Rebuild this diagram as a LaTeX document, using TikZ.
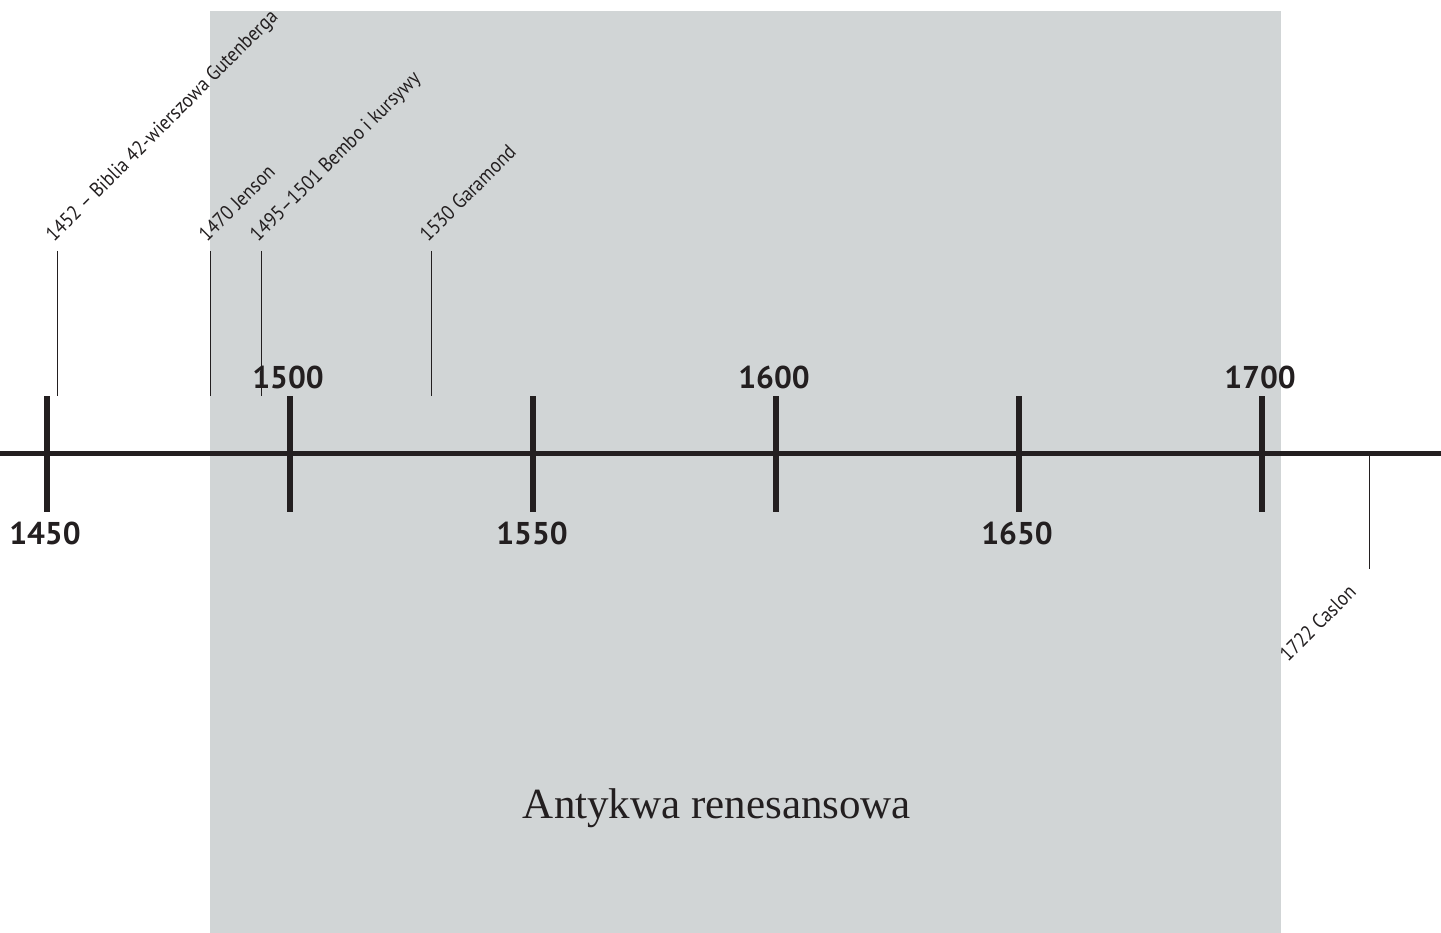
\documentclass[tikz,border=0pt]{standalone}
\usepackage{fontspec}
\setmainfont{Liberation Serif}
\newfontfamily\yearfont{PT Sans}
\newfontfamily\evfont[FakeStretch=0.9]{PT Sans}
\definecolor{bandgray}{HTML}{D1D5D6}
\definecolor{ink}{HTML}{231F20}
\begin{document}
\begin{tikzpicture}[x=1pt,y=-1pt,
  axis/.style={draw=ink,line width=5pt},
  tick/.style={draw=ink,line width=5.5pt},
  evline/.style={draw=ink,line width=1pt},
  year/.style={font=\yearfont\bfseries\fontsize{31.5}{31.5}\selectfont,text=ink,inner sep=0pt},
  ev/.style={font=\evfont\fontsize{20.5}{20.5}\selectfont,text=ink,inner sep=0pt,rotate=45,anchor=base west},
  period/.style={font=\fontsize{43}{43}\selectfont,text=ink,inner sep=0pt}]
\useasboundingbox (0,0) rectangle (1441,933);
\fill[bandgray] (210,11) rectangle (1281,933);
% axis
\coordinate (L) at (0,453);
\coordinate (R) at (1441,453);
\draw[axis] (L) -- (R);
% ticks
\foreach \n/\x in {t1450/47,t1500/290,t1550/533,t1600/776,t1650/1019,t1700/1262}{
  \coordinate (\n a) at (\x,396);
  \coordinate (\n b) at (\x,512);
  \draw[tick] (\n a) -- (\n b);
}
% year labels
\node[year] (y1450) at (45,533) {1450};
\node[year] (y1500) at (288,377) {1500};
\node[year] (y1550) at (532,533) {1550};
\node[year] (y1600) at (774,377) {1600};
\node[year] (y1650) at (1017,533) {1650};
\node[year] (y1700) at (1260,377) {1700};
% event lines
\foreach \n/\x in {e1452/57,e1470/210,e1495/261,e1530/431}{
  \coordinate (\n a) at (\x,251);
  \coordinate (\n b) at (\x,396);
  \draw[evline] (\n a) -- (\n b);
}
\coordinate (e1722a) at (1369,455);
\coordinate (e1722b) at (1369,569);
\draw[evline] (e1722a) -- (e1722b);
% event labels
\node[ev] (l1452) at (54,243) {1452 – Biblia 42-wierszowa Gutenberga};
\node[ev] (l1470) at (207,243) {1470 Jenson};
\node[ev] (l1495) at (258,243) {1495–1501 Bembo i kursywy};
\node[ev] (l1530) at (428,243) {1530 Garamond};
\node[ev] (l1722) at (1288,663) {1722 Caslon};
% period
\node[period] (per) at (717,808) {Antykwa renesansowa};
\end{tikzpicture}
\end{document}
